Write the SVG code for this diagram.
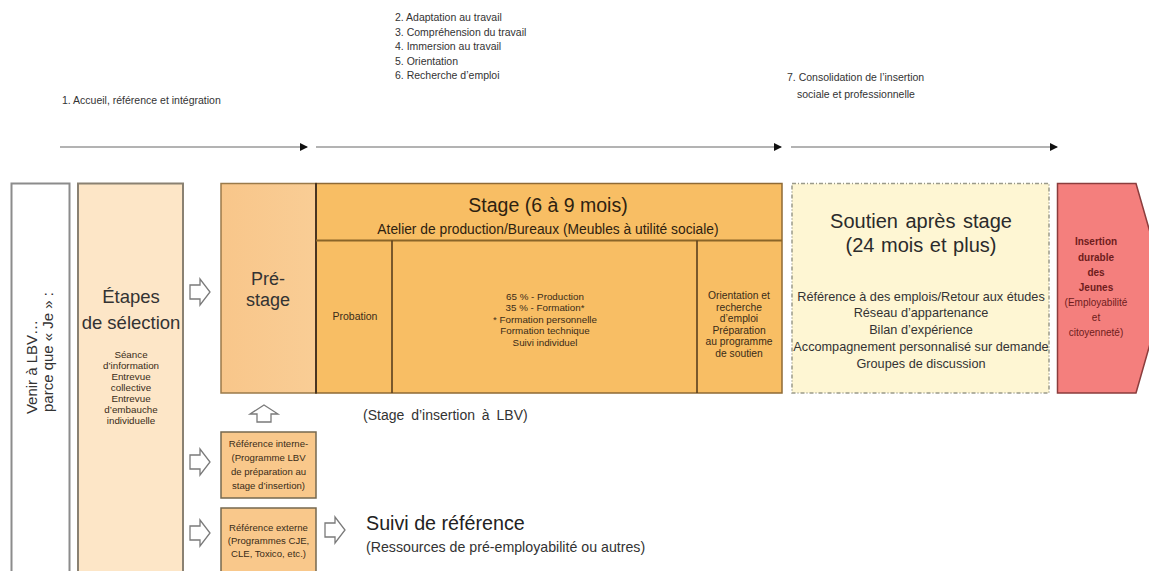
<svg xmlns="http://www.w3.org/2000/svg" width="1149" height="571" viewBox="0 0 1149 571">
<defs>
<style>
text{font-family:"Liberation Sans",Arial,Helvetica,sans-serif;fill:#2b2b2b}
.top{font-size:10.5px;fill:#333}
.mid{text-anchor:middle}
.sm{font-size:9.8px;fill:#3a2c18;text-anchor:middle}
.rf{font-size:9.6px;fill:#3a2c18;text-anchor:middle}
.tl{stroke:#9a9a9a;stroke-width:1.5;fill:none}
.ho{fill:#fff;stroke:#7a7a7a;stroke-width:1.3;stroke-linejoin:miter}
.ins{font-size:10px;fill:#6e1c1c;text-anchor:middle}
.lst{font-size:12.7px;fill:#333;text-anchor:middle}
</style>
<marker id="ah" markerWidth="8" markerHeight="8" refX="7" refY="4" orient="auto" markerUnits="userSpaceOnUse">
<path d="M0,0 L8,4 L0,8 Z" fill="#111"/>
</marker>
<path id="rarr" d="M0,-7 H10 V-13 L20,0 L10,13 V7 H0 Z"/>
<linearGradient id="gpre" x1="0" y1="0" x2="1" y2="0">
<stop offset="0" stop-color="#f8c68a"/><stop offset="1" stop-color="#f9cd95"/>
</linearGradient>
</defs>

<g id="timeline-labels">
<text class="top" x="395" y="21">2. Adaptation  au travail</text>
<text class="top" x="395" y="35.5">3. Compréhension  du travail</text>
<text class="top" x="395" y="50">4. Immersion  au travail</text>
<text class="top" x="395" y="64.5">5.  Orientation</text>
<text class="top" x="395" y="79">6. Recherche  d’emploi</text>
<text class="top" x="62" y="104">1. Accueil,  référence  et intégration</text>
<text class="top" x="787" y="81">7. Consolidation  de l’insertion</text>
<text class="top" x="797" y="98">sociale  et professionnelle</text>
</g>

<g id="connectors">
<line class="tl" x1="60" y1="147" x2="307" y2="147" marker-end="url(#ah)"/>
<line class="tl" x1="316" y1="147" x2="781" y2="147" marker-end="url(#ah)"/>
<line class="tl" x1="791" y1="147" x2="1057" y2="147" marker-end="url(#ah)"/>
<use href="#rarr" class="ho" x="190" y="292"/>
<use href="#rarr" class="ho" x="190" y="462"/>
<use href="#rarr" class="ho" x="190" y="533"/>
<use href="#rarr" class="ho" x="325" y="530"/>
<path class="ho" d="M264,405 L278,414 H271 V422 H257 V414 H250 Z"/>
</g>

<g id="venir">
<rect x="11.5" y="183.5" width="58" height="400" fill="#fff" stroke="#8c8c8c" stroke-width="2"/>
<text transform="translate(37,367) rotate(-90)" class="mid" style="font-size:15px;fill:#333">Venir à LBV…</text>
<text transform="translate(53,352) rotate(-90)" class="mid" style="font-size:15px;fill:#333">parce que « Je » :</text>
</g>

<g id="etapes">
<rect x="78" y="183.5" width="105" height="400" fill="#fde6c7" stroke="#8a8172" stroke-width="2"/>
<text x="131" y="303" class="mid" style="font-size:18.5px;fill:#333">Étapes</text>
<text x="131" y="329" class="mid" style="font-size:18.5px;fill:#333">de sélection</text>
<text class="sm" x="131" y="358">Séance</text>
<text class="sm" x="131" y="369">d’information</text>
<text class="sm" x="131" y="380">Entrevue</text>
<text class="sm" x="131" y="391">collective</text>
<text class="sm" x="131" y="402">Entrevue</text>
<text class="sm" x="131" y="413">d’embauche</text>
<text class="sm" x="131" y="424">individuelle</text>
</g>

<g id="prestage">
<rect x="221" y="183.5" width="95" height="209.5" fill="url(#gpre)" stroke="#9a7a4a" stroke-width="1.5"/>
<text x="268" y="285" class="mid" style="font-size:18px;fill:#333">Pré-</text>
<text x="268" y="306" class="mid" style="font-size:18px;fill:#333">stage</text>
</g>

<g id="stage">
<rect x="316" y="183.5" width="466" height="209.5" fill="#f8be64" stroke="#8f6a35" stroke-width="1.5"/>
<line x1="316" y1="183" x2="316" y2="393.5" stroke="#4a3520" stroke-width="2"/>
<line x1="316" y1="240.5" x2="782" y2="240.5" stroke="#8a6528" stroke-width="1.8"/>
<line x1="392" y1="240.5" x2="392" y2="393" stroke="#5a3f1e" stroke-width="1.6"/>
<line x1="697" y1="240.5" x2="697" y2="393" stroke="#5a3f1e" stroke-width="1.6"/>
<text x="548" y="212" class="mid" style="font-size:19.5px;fill:#2e2210">Stage (6 à 9 mois)</text>
<text x="548" y="233.5" class="mid" style="font-size:13.8px;fill:#2e2210">Atelier de production/Bureaux (Meubles à utilité sociale)</text>
<text class="sm" x="355" y="320" style="font-size:10.5px">Probation</text>
<text class="sm" x="545" y="299.5">65 % - Production</text>
<text class="sm" x="545" y="311">35 % - Formation*</text>
<text class="sm" x="545" y="322.5">* Formation  personnelle</text>
<text class="sm" x="545" y="334">Formation  technique</text>
<text class="sm" x="545" y="345.5">Suivi individuel</text>
<text class="sm" x="739" y="299" style="font-size:10.3px">Orientation  et</text>
<text class="sm" x="739" y="310.5" style="font-size:10.3px">recherche</text>
<text class="sm" x="739" y="322" style="font-size:10.3px">d’emploi</text>
<text class="sm" x="739" y="333.5" style="font-size:10.3px">Préparation</text>
<text class="sm" x="739" y="345" style="font-size:10.3px">au programme</text>
<text class="sm" x="739" y="356.5" style="font-size:10.3px">de soutien</text>
<text x="363" y="420" style="font-size:14px;word-spacing:3px;fill:#333">(Stage d’insertion à LBV)</text>
</g>

<g id="ref-interne">
<rect x="221" y="432" width="95" height="66" fill="#f9c88b" stroke="#75684f" stroke-width="1.5"/>
<text class="rf" x="268.5" y="446.5">Référence  interne-</text>
<text class="rf" x="268.5" y="461">(Programme LBV</text>
<text class="rf" x="268.5" y="475">de préparation  au</text>
<text class="rf" x="268.5" y="488.5">stage d’insertion)</text>
</g>

<g id="ref-externe">
<rect x="221" y="508" width="95" height="80" fill="#f9c88b" stroke="#75684f" stroke-width="1.5"/>
<text class="rf" x="268.5" y="530.5">Référence  externe</text>
<text class="rf" x="268.5" y="543.5">(Programmes  CJE,</text>
<text class="rf" x="268.5" y="556.5">CLE, Toxico, etc.)</text>
</g>

<g id="suivi">
<text x="366" y="530" style="font-size:19.7px;fill:#222">Suivi de référence</text>
<text x="366" y="552" style="font-size:14.2px;fill:#333">(Ressources de pré-employabilité ou autres)</text>
</g>

<g id="soutien">
<rect x="792" y="183.5" width="257" height="209.5" fill="#fef6d3" stroke="#9a9a8a" stroke-width="1.5" stroke-dasharray="4 2 1 2"/>
<text x="921" y="228" class="mid" style="font-size:20px;word-spacing:2px;fill:#2b2b2b">Soutien après stage</text>
<text x="921" y="252" class="mid" style="font-size:20px;word-spacing:1px;fill:#2b2b2b">(24 mois et plus)</text>
<text class="lst" x="921" y="300.5">Référence à des emplois/Retour aux études</text>
<text class="lst" x="921" y="317">Réseau d’appartenance</text>
<text class="lst" x="921" y="334">Bilan d’expérience</text>
<text class="lst" x="921" y="351">Accompagnement personnalisé sur demande</text>
<text class="lst" x="921" y="368">Groupes de discussion</text>
</g>

<g id="insertion">
<path d="M1057.5,183.5 H1136 L1166,288 L1136,393 H1057.5 Z" fill="#f47f7d" stroke="#8b3d3d" stroke-width="1.5"/>
<text class="ins" x="1096" y="245" font-weight="bold">Insertion</text>
<text class="ins" x="1096" y="260.5" font-weight="bold">durable</text>
<text class="ins" x="1096" y="276" font-weight="bold">des</text>
<text class="ins" x="1096" y="291" font-weight="bold">Jeunes</text>
<text class="ins" x="1096" y="306">(Employabilité</text>
<text class="ins" x="1096" y="321">et</text>
<text class="ins" x="1096" y="336">citoyenneté)</text>
</g>
</svg>
